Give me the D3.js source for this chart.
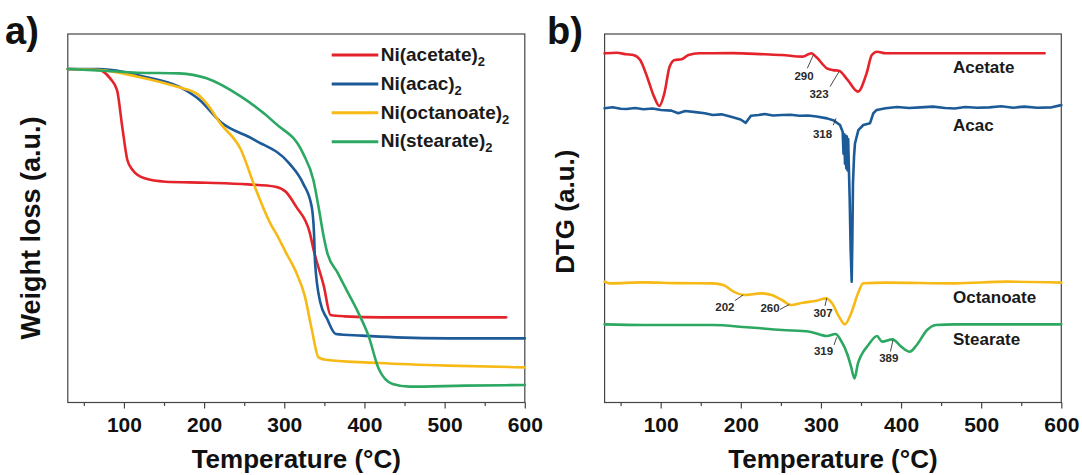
<!DOCTYPE html>
<html>
<head>
<meta charset="utf-8">
<script src="https://cdn.jsdelivr.net/npm/d3@7"></script>
<style>
  html, body { margin: 0; padding: 0; background: #fff; }
  svg { display: block; font-family: "Liberation Sans", Arial, Helvetica, sans-serif; }
</style>
</head>
<body>
<svg id="chart" width="1082" height="475"></svg>
<script>
// ---------------- DATA ----------------
const xTicks = [100, 200, 300, 400, 500, 600];
const xMinorTicks = [50, 150, 250, 350, 450, 550];
const tgaNames = ["Ni(acetate)", "Ni(acac)", "Ni(octanoate)", "Ni(stearate)"];
const dtgNames = ["Acetate", "Acac", "Octanoate", "Stearate"];

// TGA: [temperature °C, weight (a.u.)]
const tgaAcetate = [[30,100.45],[70,100.15],[74.2,99.64],[82.8,97.64],[91.4,94.12],[97.9,83.08],[104.3,73.04],[110.8,70.03],[125.8,67.52],[151.6,66.51],[203.1,66.21],[254.7,65.71],[289,65.01],[301.9,63.5],[314.8,58.98],[332,50.95],[336.3,46.24],[349.2,35.19],[357.7,26.36],[374.9,25.95],[422.2,25.65],[576.8,25.65]];
const tgaAcac = [[30,100.45],[70,100.45],[125.8,98.14],[168.7,95.13],[194.5,91.11],[220.3,84.58],[263.2,79.06],[306.2,72.03],[323.4,66.01],[334.2,58.98],[337.1,50.95],[338.4,42.22],[344.9,30.17],[353.5,25.15],[364.2,20.63],[396.4,20.13],[439.4,19.63],[503.8,19.33],[600,19.33]];
const tgaOctanoate = [[30,100.45],[70,100.15],[117.2,98.14],[168.7,94.93],[190.2,93.12],[203.1,90.11],[220.3,84.08],[246.1,76.05],[263.2,65.01],[284.7,52.96],[289,51.26],[301.9,45.23],[314.8,39.21],[325.5,32.18],[334.2,22.14],[342.7,13.61],[351.3,12.9],[417.9,11.9],[503.8,11.1],[600,10.59]];
const tgaStearate = [[30,100.45],[74.2,99.95],[117.2,99.34],[168.7,99.14],[203.1,97.64],[246.1,92.11],[289,84.08],[323.4,75.05],[336.3,67.01],[342.7,58.98],[349.2,49.95],[353.5,45.23],[366.3,39.21],[379.2,33.18],[392.1,27.16],[405,20.13],[417.9,10.09],[435.1,5.57],[456.5,4.77],[525.3,5.07],[600,5.27]];

// DTG (offset, a.u.): [temperature °C, value]
const dtgAcetate = [[30,94.76],[45,94.9],[57.2,94.49],[65.8,94.3],[74.4,92.95],[83,88.42],[91.7,83.0],[98.2,80.47],[104.6,83.9],[111.1,91.1],[117.5,92.95],[126.2,93.13],[134.8,94.3],[147.8,94.76],[190,94.8],[229.8,94.49],[251.3,94.3],[277.2,93.85],[288,94.76],[294.5,93.67],[307.4,90.69],[315,90.2],[322.5,90.05],[333.3,87.52],[346.2,84.35],[357,89.33],[363.5,94.3],[370,95.2],[380.8,94.76],[450,94.76],[579.2,94.76]];
const dtgAcac = [[30,79.83],[40,80.1],[50,79.7],[57.2,79.65],[68,79.9],[78.8,79.56],[90,79.8],[100.4,79.38],[113.3,79.2],[121.9,78.5],[130.6,79.1],[143.5,78.8],[155,78.5],[165.1,78.0],[176,78.2],[186.7,77.6],[199.7,76.8],[206.2,75.9],[212.6,77.8],[222,78.0],[229.9,78.3],[240,77.9],[251.5,78.0],[262,78.1],[273.1,77.8],[284,77.9],[294.6,77.6],[307.6,77.1],[316.2,76.5],[323.8,75.3],[327.1,73.5],[328.2,67.5],[329.2,72.8],[330.0,64.8],[330.8,72.4],[331.6,63.6],[332.4,72.2],[333.2,63.0],[334.0,71.5],[335.0,62.6],[335.9,55.0],[337.1,41.4],[338.4,32.8],[339.2,44.1],[340.0,59.5],[341.3,66.7],[342.5,70.3],[346.7,73.9],[352.9,75.3],[361.3,75.8],[365.4,78.5],[369.6,79.4],[380.8,79.83],[395,80.2],[410,79.9],[424,80.1],[440,80.3],[455,79.9],[467,79.8],[480,80.2],[495,80.0],[510,80.1],[525,80.4],[540,80.0],[553.7,80.3],[570,80.0],[588,80.1],[600,80.7]];
const dtgOctanoate = [[30,32.79],[35.6,32.34],[78.8,32.61],[120,32.4],[165.1,32.34],[178.1,31.88],[191,30.07],[204,29.17],[225.5,29.62],[238.4,29.17],[251.4,27.81],[262.2,26.46],[277.3,27.09],[294.5,27.63],[306.6,28.27],[313.9,26.91],[322.6,23.29],[329.9,21.21],[337.7,24.2],[346.3,29.62],[352.8,32.34],[380.8,32.52],[467.1,32.34],[531.8,32.79],[600,32.52]];
const dtgStearate = [[30,21.21],[78.8,21.03],[165.1,21.03],[208.2,20.4],[251.4,19.67],[285.9,19.22],[307.4,18.04],[318.2,18.59],[324.6,16.96],[333.3,12.89],[337.6,9.72],[341.9,6.56],[346.2,10.63],[350.5,12.89],[359.2,15.6],[369.9,18.04],[376.4,16.51],[389.4,17.14],[400.2,15.15],[410.9,13.79],[419.6,15.6],[432.5,19.67],[443.3,21.03],[467.1,21.21],[600,21.21]];

// DTG peak annotations
const annotLabels = ["290", "323", "318", "202", "260", "307", "319", "389"];
const annotTemps  = [290.5, 322.6, 318.8, 203, 260.5, 307.2, 319.7, 390];
const annotValues = [94.3, 89.8, 77.1, 29.2, 26.6, 28.3, 17.7, 17.0];

// ---------------- LAYOUT / STYLE ----------------
const colors = ["#e4232b", "#1c5b98", "#f6b915", "#2ca862"];
const FONT = '"Liberation Sans", Arial, Helvetica, sans-serif';
const annotOffsets = [ // [leader dx, leader dy, text dx, text baseline dy]
  [-6, 13.3, -9.3, 25], [-9, 15, -20, 26.6], [-2.7, 6.7, -13.5, 20],
  [-8.3, 5.7, -18.3, 15.7], [-9.3, 5, -19.3, 8], [-1.7, 7.7, -3.7, 19],
  [-2.7, 7.7, -13.2, 17.7], [-2.6, 11.7, -4.3, 21.7]
];

const svg = d3.select("#chart");
const plotTop = 34, plotBottom = 402.5;

function panel(x0, x1, yDomain) {
  const x = d3.scaleLinear().domain([30, 600]).range([x0, x1]);
  const y = d3.scaleLinear().domain(yDomain).range([plotBottom, plotTop]);
  return {x, y};
}

function drawAxes(p, x0, x1) {
  svg.append("rect").attr("x", x0).attr("y", plotTop).attr("width", x1 - x0).attr("height", plotBottom - plotTop)
    .attr("fill", "none").attr("stroke", "#444").attr("stroke-width", 1.2);
  const gMinor = svg.append("g").attr("transform", `translate(0,${plotBottom})`)
    .call(d3.axisBottom(p.x).tickValues(xMinorTicks).tickSize(3.5).tickFormat(""));
  gMinor.select(".domain").remove();
  gMinor.selectAll("line").attr("stroke", "#444").attr("stroke-width", 1.2);
  const g = svg.append("g").attr("transform", `translate(0,${plotBottom})`)
    .call(d3.axisBottom(p.x).tickValues(xTicks).tickSize(6).tickFormat(d3.format("d")));
  g.select(".domain").remove();
  g.selectAll("line").attr("stroke", "#444").attr("stroke-width", 1.2);
  g.selectAll("text").attr("y", 29.2).attr("dy", null)
    .attr("font-family", FONT).attr("font-size", 21).attr("font-weight", "bold").attr("fill", "#111");
  svg.append("text").attr("x", (x0 + x1) / 2).attr("y", 467.5).attr("text-anchor", "middle")
    .attr("font-family", FONT).attr("font-size", 26).attr("font-weight", "bold").attr("fill", "#111")
    .text("Temperature (°C)");
}

function drawLine(p, data, color, curve, width) {
  const line = d3.line().x(d => p.x(d[0])).y(d => p.y(d[1])).curve(curve);
  svg.append("path").datum(data).attr("d", line).attr("fill", "none")
    .attr("stroke", color).attr("stroke-width", width).attr("stroke-linejoin", "round").attr("stroke-linecap", "round");
}

// ---------- Panel a ----------
const ax0 = 67.8, ax1 = 524.8;
const pa = panel(ax0, ax1, [0, 111]);
drawAxes(pa, ax0, ax1);
[tgaAcetate, tgaAcac, tgaOctanoate, tgaStearate].forEach((d, i) => drawLine(pa, d, colors[i], d3.curveMonotoneX, 2.6));

const legY0 = 55, legStep = 28.9;
tgaNames.forEach((name, i) => {
  const yy = legY0 + i * legStep;
  svg.append("line").attr("x1", 331.7).attr("x2", 378.3).attr("y1", yy).attr("y2", yy)
    .attr("stroke", colors[i]).attr("stroke-width", 3);
  const t = svg.append("text").attr("x", 380.7).attr("y", yy + 5.7)
    .attr("font-family", FONT).attr("font-size", 19).attr("font-weight", "bold").attr("fill", "#1a1a1a");
  t.append("tspan").text(name);
  t.append("tspan").attr("font-size", 13).attr("dy", 5).text("2");
});

svg.append("text").attr("x", 5).attr("y", 44).attr("font-family", FONT).attr("font-size", 38)
  .attr("font-weight", "bold").attr("fill", "#111").text("a)");
svg.append("text").attr("transform", "translate(40,228) rotate(-90)").attr("text-anchor", "middle")
  .attr("font-family", FONT).attr("font-size", 27).attr("font-weight", "bold").attr("fill", "#111")
  .text("Weight loss (a.u.)");

// ---------- Panel b ----------
const bx0 = 604.6, bx1 = 1061.3;
const pb = panel(bx0, bx1, [0, 100]);
drawAxes(pb, bx0, bx1);
drawLine(pb, dtgAcetate, colors[0], d3.curveMonotoneX, 2.6);
drawLine(pb, dtgAcac, colors[1], d3.curveLinear, 2.6);
drawLine(pb, dtgOctanoate, colors[2], d3.curveMonotoneX, 2.6);
drawLine(pb, dtgStearate, colors[3], d3.curveMonotoneX, 2.6);

const seriesLabelBaselines = [73.3, 130.5, 302.7, 345];
dtgNames.forEach((name, i) => {
  svg.append("text").attr("x", 953).attr("y", seriesLabelBaselines[i])
    .attr("font-family", FONT).attr("font-size", 17).attr("font-weight", "bold").attr("fill", "#1a1a1a").text(name);
});

annotLabels.forEach((lab, i) => {
  const tx = pb.x(annotTemps[i]), ty = pb.y(annotValues[i]);
  const o = annotOffsets[i];
  svg.append("line").attr("x1", tx).attr("y1", ty).attr("x2", tx + o[0]).attr("y2", ty + o[1])
    .attr("stroke", "#333").attr("stroke-width", 0.9);
  svg.append("text").attr("x", tx + o[2]).attr("y", ty + o[3]).attr("text-anchor", "middle")
    .attr("font-family", FONT).attr("font-size", 11.5).attr("font-weight", "bold").attr("fill", "#2a2a2a").text(lab);
});

svg.append("text").attr("x", 547).attr("y", 44).attr("font-family", FONT).attr("font-size", 38)
  .attr("font-weight", "bold").attr("fill", "#111").text("b)");
svg.append("text").attr("transform", "translate(574,211.7) rotate(-90)").attr("text-anchor", "middle")
  .attr("font-family", FONT).attr("font-size", 26).attr("font-weight", "bold").attr("fill", "#111")
  .text("DTG (a.u.)");
</script>
</body>
</html>
